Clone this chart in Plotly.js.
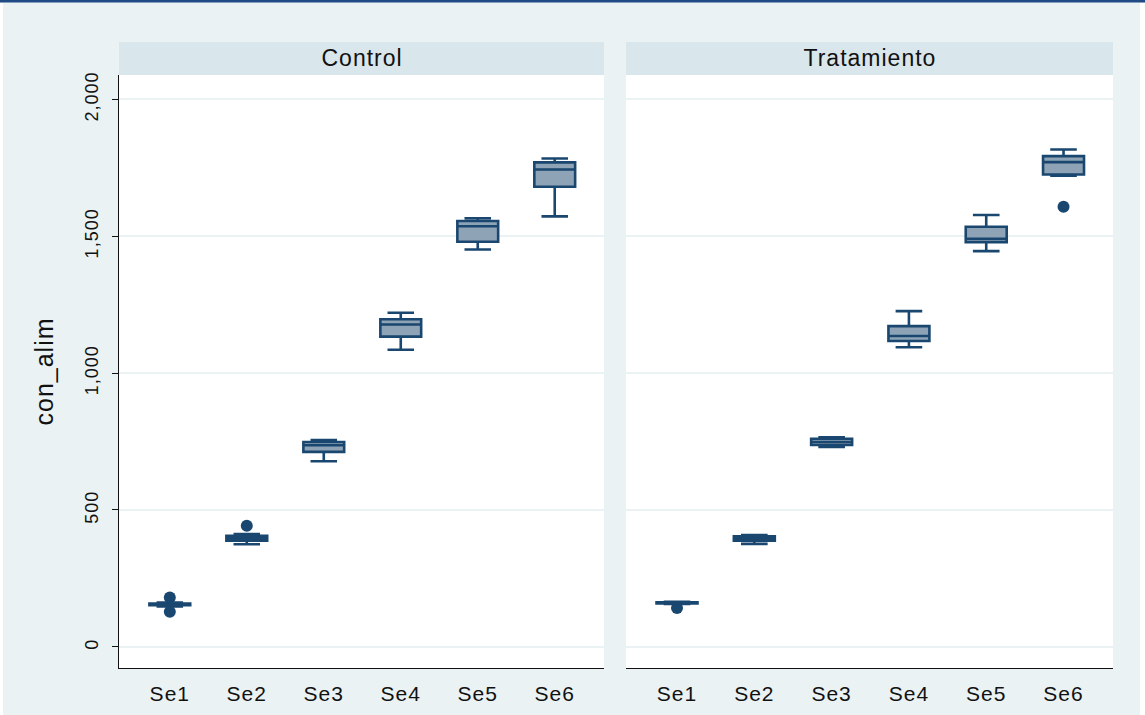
<!DOCTYPE html>
<html>
<head>
<meta charset="utf-8">
<script src="https://cdn.plot.ly/plotly-3.0.1.min.js"></script>
<style>
html,body{margin:0;padding:0;background:#ffffff;}
#chart{width:1145px;height:715px;}
#chart svg text{letter-spacing:1px;}
</style>
</head>
<body>
<div id="chart"></div>
<script>
// ---- data ----
const categories = ['Se1', 'Se2', 'Se3', 'Se4', 'Se5', 'Se6'];
const panelNames = ['Control', 'Tratamiento'];

const controlLow    = [148, 375, 678, 1085, 1451, 1572];
const controlQ1     = [152, 388, 712, 1133, 1479, 1680];
const controlMedian = [155, 398, 736, 1177, 1536, 1743];
const controlQ3     = [158, 406, 748, 1196, 1555, 1769];
const controlHigh   = [162, 412, 755, 1220, 1565, 1783];
const controlOutX   = ['Se1', 'Se1', 'Se2'];
const controlOutY   = [180, 128, 442];

const tratLow    = [157, 376, 730, 1094, 1445, 1720];
const tratQ1     = [159, 388, 737, 1117, 1478, 1725];
const tratMedian = [161, 397, 748, 1135, 1490, 1770];
const tratQ3     = [163, 404, 760, 1171, 1534, 1792];
const tratHigh   = [165, 408, 765, 1226, 1577, 1816];
const tratOutX   = ['Se6', 'Se1'];
const tratOutY   = [1607, 142];

const yTickVals  = [0, 500, 1000, 1500, 2000];
const yTickText  = ['0', '500', '1,000', '1,500', '2,000'];
const yTitle = 'con_alim';

// ---- style ----
const W = 1145, H = 715;
const navy = '#1a476f';
const boxFill = '#8fa3b7';
const bg = '#eaf2f3';
const stripCol = '#d9e6eb';
const font = 'Liberation Sans, Arial, Helvetica, sans-serif';

function boxTrace(low, q1, med, q3, high, xa, ya) {
  return {
    type: 'box', x: categories, lowerfence: low, q1: q1, median: med, q3: q3, upperfence: high,
    xaxis: xa, yaxis: ya, boxpoints: false, width: 0.53, whiskerwidth: 0.65,
    fillcolor: boxFill, line: {color: navy, width: 2.6}, showlegend: false, hoverinfo: 'y'
  };
}
function outTrace(xs, ys, xa, ya) {
  return {
    type: 'scatter', mode: 'markers', x: xs, y: ys, xaxis: xa, yaxis: ya,
    marker: {color: navy, size: 12}, showlegend: false
  };
}

const data = [
  boxTrace(controlLow, controlQ1, controlMedian, controlQ3, controlHigh, 'x', 'y'),
  outTrace(controlOutX, controlOutY, 'x', 'y'),
  boxTrace(tratLow, tratQ1, tratMedian, tratQ3, tratHigh, 'x2', 'y2'),
  outTrace(tratOutX, tratOutY, 'x2', 'y2')
];

const L1 = 119, R1 = 604, L2 = 626, R2 = 1113;
const plotTop = 75, plotBot = 668, stripTop = 42;
const px = v => v / W;
const py = v => 1 - v / H;

const xBase = {
  type: 'category', categoryorder: 'array', categoryarray: categories,
  range: [-0.66, 5.64], showgrid: false, zeroline: false,
  showline: true, linecolor: '#111', linewidth: 1.3, ticks: '', ticklabelstandoff: 6,
  tickfont: {family: font, size: 21, color: '#111'}, fixedrange: true
};
const yRange = [-77, 2088];

const layout = {
  width: W, height: H,
  margin: {l: 0, r: 0, t: 0, b: 0},
  paper_bgcolor: bg, plot_bgcolor: '#ffffff',
  showlegend: false,
  xaxis: Object.assign({}, xBase, {domain: [px(L1), px(R1)], anchor: 'y'}),
  xaxis2: Object.assign({}, xBase, {domain: [px(L2), px(R2)], anchor: 'y2'}),
  yaxis: {
    domain: [py(plotBot), py(plotTop)], range: yRange, anchor: 'x',
    tickvals: yTickVals, ticktext: yTickText, tickangle: -90,
    showgrid: true, gridcolor: bg, gridwidth: 2, zeroline: false,
    showline: true, linecolor: '#111', linewidth: 1.3,
    ticks: 'outside', ticklen: 6, tickcolor: '#111', tickwidth: 1,
    ticklabelstandoff: 7,
    tickfont: {family: font, size: 18, color: '#111'},
    title: {text: yTitle, font: {family: font, size: 25, color: '#111'}, standoff: 20},
    automargin: false, fixedrange: true
  },
  yaxis2: {
    domain: [py(plotBot), py(plotTop)], range: yRange, anchor: 'x2',
    tickvals: yTickVals, showticklabels: false,
    showgrid: true, gridcolor: bg, gridwidth: 2, zeroline: false,
    showline: false, ticks: '', fixedrange: true
  },
  shapes: [
    {type: 'rect', xref: 'paper', yref: 'paper', x0: px(L1), x1: px(R1), y0: py(plotTop), y1: py(stripTop),
     fillcolor: stripCol, line: {width: 0}, layer: 'below'},
    {type: 'rect', xref: 'paper', yref: 'paper', x0: px(L2), x1: px(R2), y0: py(plotTop), y1: py(stripTop),
     fillcolor: stripCol, line: {width: 0}, layer: 'below'},
    {type: 'line', xref: 'paper', yref: 'paper', x0: 0, x1: 1, y0: py(1), y1: py(1),
     line: {color: '#1f4a86', width: 3}},
    {type: 'rect', xref: 'paper', yref: 'paper', x0: 0, x1: px(3), y0: 0, y1: py(3),
     fillcolor: '#ffffff', line: {width: 0}},
    {type: 'rect', xref: 'paper', yref: 'paper', x0: px(1140), x1: 1, y0: 0, y1: py(3),
     fillcolor: '#ffffff', line: {width: 0}}
  ],
  annotations: [
    {xref: 'paper', yref: 'paper', x: px((L1 + R1) / 2), y: py((plotTop + stripTop) / 2),
     text: panelNames[0], showarrow: false, xanchor: 'center', yanchor: 'middle',
     font: {family: font, size: 23, color: '#111'}},
    {xref: 'paper', yref: 'paper', x: px((L2 + R2) / 2), y: py((plotTop + stripTop) / 2),
     text: panelNames[1], showarrow: false, xanchor: 'center', yanchor: 'middle',
     font: {family: font, size: 23, color: '#111'}}
  ]
};

Plotly.newPlot('chart', data, layout, {displayModeBar: false, staticPlot: true});
</script>
</body>
</html>
